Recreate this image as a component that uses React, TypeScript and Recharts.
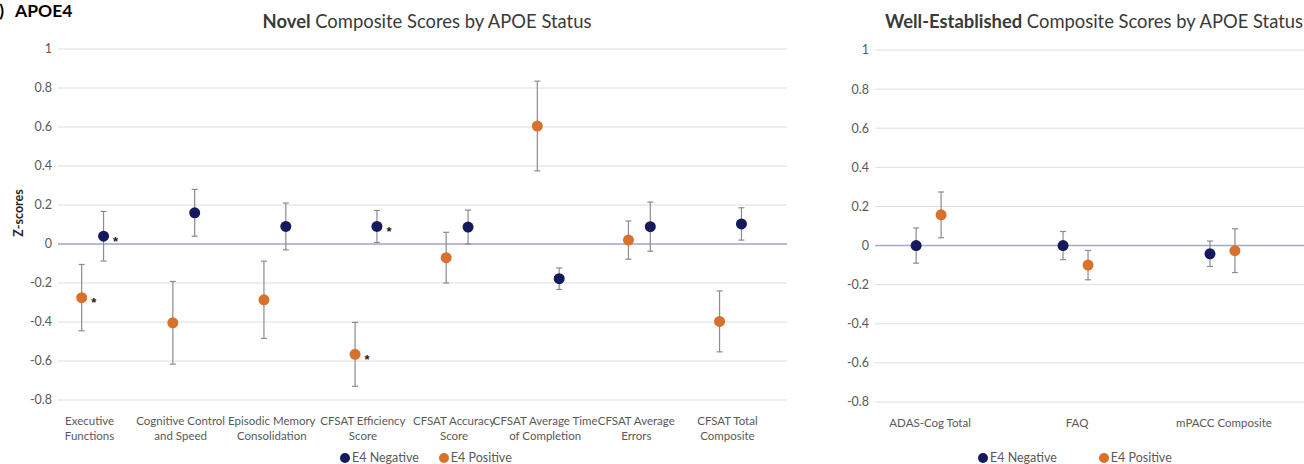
import { ScatterChart, Scatter, XAxis, YAxis, CartesianGrid, ErrorBar, ReferenceLine } from 'recharts';

// novel composites
const novelCategories = [
  'Executive\nFunctions',
  'Cognitive Control\nand Speed',
  'Episodic Memory\nConsolidation',
  'CFSAT Efficiency\nScore',
  'CFSAT Accuracy\nScore',
  'CFSAT Average Time\nof Completion',
  'CFSAT Average\nErrors',
  'CFSAT Total\nComposite',
];
const novelNegMean = [0.04, 0.16, 0.09, 0.09, 0.087, -0.178, 0.089, 0.103];
const novelNegErr = [0.127, 0.12, 0.12, 0.082, 0.087, 0.055, 0.126, 0.083];
const novelNegSig = [true, false, false, true, false, false, false, false];
const novelPosMean = [-0.275, -0.404, -0.286, -0.566, -0.07, 0.605, 0.02, -0.397];
const novelPosErr = [0.17, 0.212, 0.198, 0.164, 0.13, 0.23, 0.098, 0.156];
const novelPosSig = [true, false, false, true, false, false, false, false];

// well-established composites
const wellCategories = ['ADAS-Cog Total', 'FAQ', 'mPACC Composite'];
const wellNegMean = [0, 0, -0.042];
const wellNegErr = [0.09, 0.072, 0.065];
const wellNegSig = [false, false, false];
const wellPosMean = [0.157, -0.1, -0.026];
const wellPosErr = [0.117, 0.075, 0.112];
const wellPosSig = [false, false, false];

const seriesNames = ['E4 Negative', 'E4 Positive'];
const yTicks = [-0.8, -0.6, -0.4, -0.2, 0, 0.2, 0.4, 0.6, 0.8, 1];

const NAVY = '#141a5c';
const ORANGE = '#d9712c';
const ERR = '#8c8c8c';
const GRID = '#dedede';
const ZERO = '#a3abc8';
const TEXT = '#595959';
const FONT = 'Lato, sans-serif';

const buildPoints = (means: number[], errs: number[], sigs: boolean[], offset: number) =>
  means.map((m, i) => ({ x: i + offset, y: m, err: errs[i], sig: sigs[i] }));

const makeDot = (color: string) => (props: any) => {
  const { cx, cy, payload } = props;
  return (
    <g>
      <circle cx={cx} cy={cy} r={5.5} fill={color} />
      {payload.sig && (
        <text
          x={cx + 12}
          y={cy + 9.5}
          textAnchor="middle"
          fontSize={13}
          fontWeight="bold"
          fill="#1a1a1a"
          fontFamily="'Liberation Sans', sans-serif"
        >
          *
        </text>
      )}
    </g>
  );
};

const makeTick = (labels: string[], dx: number) => (props: any) => {
  const { x, y, payload } = props;
  const lines = labels[Math.round(payload.value)].split('\n');
  return (
    <text x={x + dx} y={y + 17} textAnchor="middle" fontSize={11.5} fill={TEXT} fontFamily={FONT}>
      {lines.map((l, k) => (
        <tspan key={k} x={x + dx} dy={k === 0 ? 0 : 14.5}>
          {l}
        </tspan>
      ))}
    </text>
  );
};

const Legend = ({ left, gap }: { left: number; gap: number }) => (
  <div
    style={{
      position: 'absolute',
      left,
      top: 450,
      display: 'flex',
      gap,
      fontSize: 12.5,
      color: TEXT,
      fontFamily: FONT,
      lineHeight: '15px',
    }}
  >
    {seriesNames.map((n, i) => (
      <div key={n} style={{ display: 'flex', alignItems: 'center' }}>
        <span
          style={{
            width: 10,
            height: 10,
            borderRadius: 5,
            background: i === 0 ? NAVY : ORANGE,
            marginRight: 2,
            display: 'inline-block',
          }}
        />
        <span>{n}</span>
      </div>
    ))}
  </div>
);

const Panel = ({
  labels,
  negMean,
  negErr,
  negSig,
  posMean,
  posErr,
  posSig,
  posOffset,
  domain,
  width,
  margin,
  tickDx,
  withLabel,
}: any) => {
  const negData = buildPoints(negMean, negErr, negSig, 0);
  const posData = buildPoints(posMean, posErr, posSig, posOffset);
  const ticks = labels.map((_: string, i: number) => i);
  return (
    <ScatterChart width={width} height={464} margin={margin} style={{ fontFamily: FONT }}>
      <CartesianGrid horizontal vertical={false} stroke={GRID} />
      <XAxis
        type="number"
        dataKey="x"
        domain={domain}
        ticks={ticks}
        axisLine={false}
        tickLine={false}
        height={40}
        interval={0}
        tick={makeTick(labels, tickDx)}
      />
      <YAxis
        type="number"
        dataKey="y"
        domain={[-0.8, 1]}
        ticks={yTicks}
        width={40}
        axisLine={false}
        tickLine={false}
        tickMargin={0}
        tick={{ fill: TEXT, fontSize: 12.5, fontFamily: FONT }}
        tickFormatter={(v: number) => String(v)}
        label={
          withLabel
            ? {
                content: () => (
                  <text
                    x={23}
                    y={213}
                    transform="rotate(-90 23 213)"
                    textAnchor="middle"
                    fontSize={12.5}
                    fontWeight="bold"
                    fill="#262626"
                    fontFamily={FONT}
                  >
                    Z-scores
                  </text>
                ),
              }
            : undefined
        }
      />
      <ReferenceLine y={0} stroke={ZERO} strokeWidth={1.5} />
      <Scatter name={seriesNames[1]} data={posData} fill={ORANGE} shape={makeDot(ORANGE)} isAnimationActive={false}>
        <ErrorBar dataKey="err" direction="y" width={3} stroke={ERR} strokeWidth={1.2} />
      </Scatter>
      <Scatter name={seriesNames[0]} data={negData} fill={NAVY} shape={makeDot(NAVY)} isAnimationActive={false}>
        <ErrorBar dataKey="err" direction="y" width={3} stroke={ERR} strokeWidth={1.2} />
      </Scatter>
    </ScatterChart>
  );
};

export default function App() {
  return (
    <div
      style={{
        position: 'absolute',
        left: 0,
        top: 0,
        width: 1304,
        height: 464,
        overflow: 'hidden',
        background: '#fff',
        fontFamily: FONT,
      }}
    >
      <div style={{ position: 'absolute', left: 0, top: 0 }}>
        <Panel
          labels={novelCategories}
          negMean={novelNegMean}
          negErr={novelNegErr}
          negSig={novelNegSig}
          posMean={novelPosMean}
          posErr={novelPosErr}
          posSig={novelPosSig}
          posOffset={-0.24}
          domain={[-0.5, 7.5]}
          width={800}
          margin={{ top: 49, right: 13, bottom: 24, left: 18 }}
          tickDx={-14}
          withLabel
        />
      </div>
      <div style={{ position: 'absolute', left: 820, top: 0 }}>
        <Panel
          labels={wellCategories}
          negMean={wellNegMean}
          negErr={wellNegErr}
          negSig={wellNegSig}
          posMean={wellPosMean}
          posErr={wellPosErr}
          posSig={wellPosSig}
          posOffset={0.17}
          domain={[-0.28, 2.64]}
          width={484}
          margin={{ top: 50, right: 0, bottom: 22, left: 15 }}
          tickDx={14}
        />
      </div>
      <svg width={1304} height={40} style={{ position: 'absolute', left: 0, top: 0 }}>
        <text y={17} fontSize={17.5} fontWeight="bold" fill="#000" fontFamily={FONT}>
          <tspan x={4} textAnchor="end">A)</tspan>
          <tspan x={15}>APOE4</tspan>
        </text>
        <text x={427} y={28} textAnchor="middle" fontSize={18.4} fill="#3a3a3a" fontFamily={FONT}>
          <tspan fontWeight="bold">Novel</tspan> Composite Scores by APOE Status
        </text>
        <text x={1094} y={28} textAnchor="middle" fontSize={18.4} fill="#3a3a3a" fontFamily={FONT}>
          <tspan fontWeight="bold">Well-Established</tspan> Composite Scores by APOE Status
        </text>
      </svg>
      <Legend left={340} gap={20} />
      <Legend left={978} gap={42} />
    </div>
  );
}
